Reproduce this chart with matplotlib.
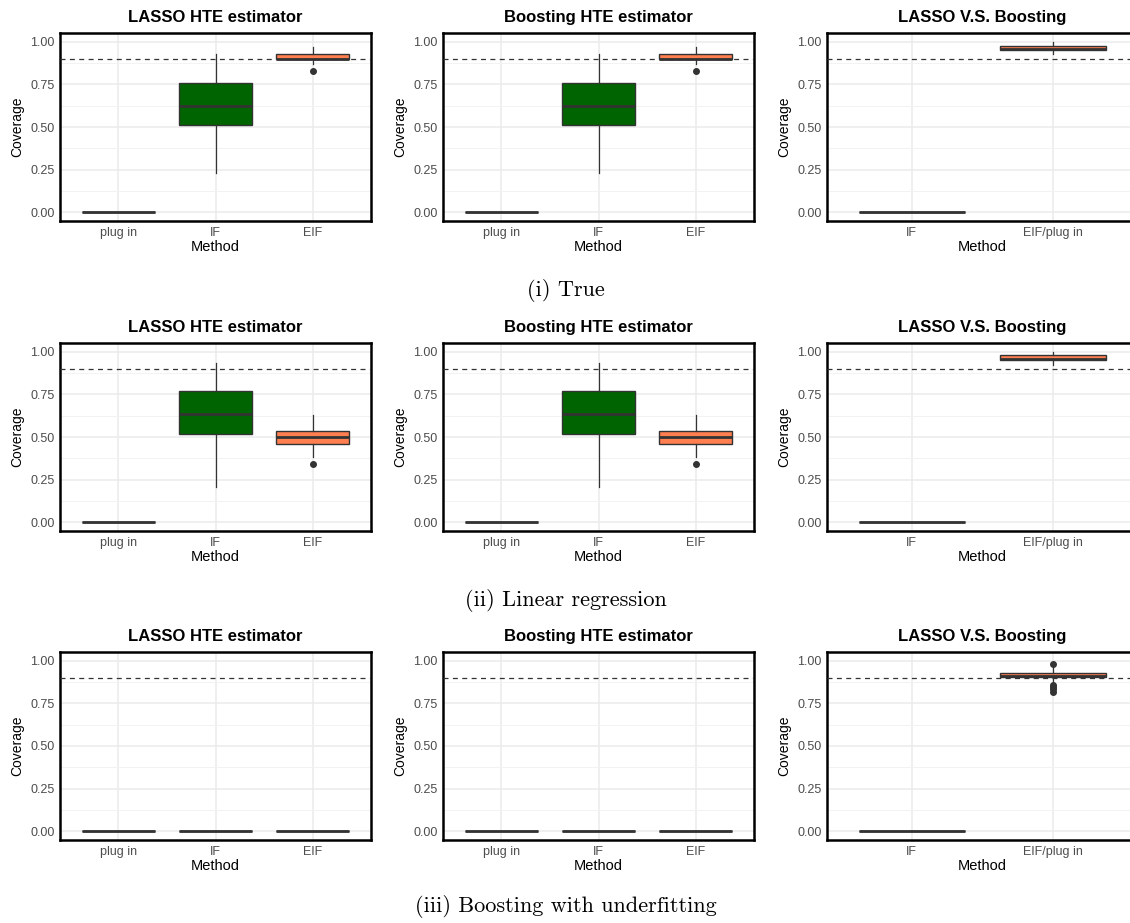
import matplotlib.pyplot as plt

plt.rcParams['font.family'] = ['Liberation Sans', 'DejaVu Sans']

methods3 = ["plug in", "IF", "EIF"]
methods2 = ["IF", "EIF/plug in"]
fills3 = ["#F8766D", "#006400", "#FF7F50"]
fills2 = ["#006400", "#FF7F50"]

# five-number summaries per method: (whisker low, Q1, median, Q3, whisker high)
true_lasso = [(0, 0, 0, 0, 0), (0.23, 0.51, 0.625, 0.755, 0.93), (0.87, 0.897, 0.90, 0.925, 0.97)]
true_lasso_out = [[], [], [0.83]]
true_boost = [(0, 0, 0, 0, 0), (0.23, 0.51, 0.625, 0.755, 0.93), (0.87, 0.897, 0.90, 0.925, 0.97)]
true_boost_out = [[], [], [0.83]]
true_vs = [(0, 0, 0, 0, 0), (0.93, 0.948, 0.955, 0.976, 1.0)]
true_vs_out = [[], []]

lin_lasso = [(0, 0, 0, 0, 0), (0.21, 0.52, 0.632, 0.772, 0.934), (0.383, 0.46, 0.502, 0.534, 0.63)]
lin_lasso_out = [[], [], [0.343]]
lin_boost = [(0, 0, 0, 0, 0), (0.21, 0.52, 0.632, 0.772, 0.934), (0.383, 0.46, 0.502, 0.534, 0.63)]
lin_boost_out = [[], [], [0.343]]
lin_vs = [(0, 0, 0, 0, 0), (0.924, 0.951, 0.958, 0.98, 0.996)]
lin_vs_out = [[], []]

under_lasso = [(0, 0, 0, 0, 0), (0, 0, 0, 0, 0), (0, 0, 0, 0, 0)]
under_lasso_out = [[], [], []]
under_boost = [(0, 0, 0, 0, 0), (0, 0, 0, 0, 0), (0, 0, 0, 0, 0)]
under_boost_out = [[], [], []]
under_vs = [(0, 0, 0, 0, 0), (0.875, 0.903, 0.907, 0.93, 0.96)]
under_vs_out = [[], [0.981, 0.855, 0.845, 0.833, 0.818]]

titles = ["LASSO HTE estimator", "Boosting HTE estimator", "LASSO V.S. Boosting"]
captions = ["(i) True", "(ii) Linear regression", "(iii) Boosting with underfitting"]

rows = [
    [(true_lasso, true_lasso_out), (true_boost, true_boost_out), (true_vs, true_vs_out)],
    [(lin_lasso, lin_lasso_out), (lin_boost, lin_boost_out), (lin_vs, lin_vs_out)],
    [(under_lasso, under_lasso_out), (under_boost, under_boost_out), (under_vs, under_vs_out)],
]

W, H = 1130, 923
fig = plt.figure(figsize=(W / 100, H / 100), dpi=100)

col_x = [(60, 371), (443, 754), (827, 1138)]
row_y = [(33, 221), (343, 531), (652, 840)]
caption_y = [290, 600, 906]


def draw_panel(ax, cats, stats, outs, fills, title):
    bstats = []
    for lab, (lo, q1, med, q3, hi), fl in zip(cats, stats, outs):
        bstats.append(dict(label=lab, whislo=lo, q1=q1, med=med, q3=q3, whishi=hi, fliers=fl))
    pos = list(range(1, len(cats) + 1))
    bp = ax.bxp(bstats, positions=pos, widths=0.75, patch_artist=True, showcaps=False,
                boxprops=dict(edgecolor='#333333', linewidth=1.0),
                medianprops=dict(color='#333333', linewidth=2.0),
                whiskerprops=dict(color='#333333', linewidth=0.9),
                flierprops=dict(marker='o', markerfacecolor='#333333', markeredgecolor='#333333',
                                markersize=4, linestyle='none'))
    for patch, c in zip(bp['boxes'], fills):
        patch.set_facecolor(c)
    ax.axhline(0.9, ls=(0, (4, 3.5)), color='#333333', lw=0.9, zorder=5)

    ax.set_xlim(0.4, len(cats) + 0.6)
    ax.set_ylim(-0.05, 1.05)
    ax.set_xticks(pos)
    ax.set_xticklabels(cats)
    ax.set_yticks([0, 0.25, 0.5, 0.75, 1.0])
    ax.set_yticklabels(["0.00", "0.25", "0.50", "0.75", "1.00"])
    ax.set_yticks([0.125, 0.375, 0.625, 0.875], minor=True)
    ax.set_axisbelow(True)
    ax.grid(True, which='major', color='#EBEBEB', lw=1.1)
    ax.grid(True, which='minor', axis='y', color='#F2F2F2', lw=0.7)
    ax.tick_params(which='both', length=0, labelsize=9, labelcolor='#4D4D4D', pad=4)
    for sp in ax.spines.values():
        sp.set_color('black')
        sp.set_linewidth(1.8)
    ax.set_xlabel("Method", fontsize=10.5, labelpad=1)
    ax.set_ylabel("Coverage", fontsize=10, labelpad=4)
    ax.set_title(title, fontsize=12, fontweight='bold', pad=8)


for r, row in enumerate(rows):
    y0, y1 = row_y[r]
    for c, (stats, outs) in enumerate(row):
        x0, x1 = col_x[c]
        ax = fig.add_axes([x0 / W, 1 - y1 / H, (x1 - x0) / W, (y1 - y0) / H])
        if c < 2:
            draw_panel(ax, methods3, stats, outs, fills3, titles[c])
        else:
            draw_panel(ax, methods2, stats, outs, fills2, titles[c])
    fig.text(566 / W, 1 - caption_y[r] / H, captions[r], fontsize=16, family='cmr10',
             ha='center', va='center')

fig.savefig("out.png", dpi=100)
